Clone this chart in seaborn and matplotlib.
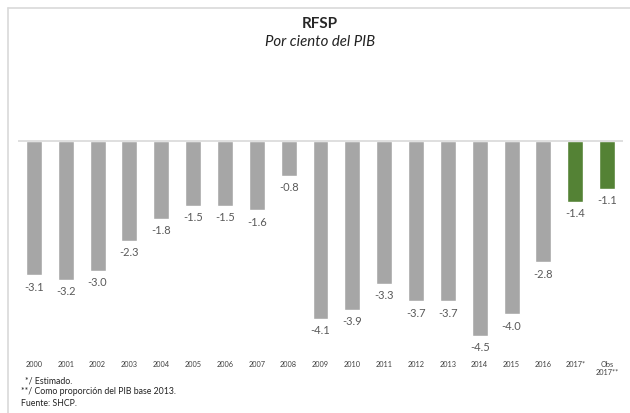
import matplotlib
matplotlib.use("Agg")
import matplotlib.pyplot as plt
import seaborn as sns
import pandas as pd
from matplotlib.lines import Line2D

# datos
years = ["2000", "2001", "2002", "2003", "2004", "2005", "2006", "2007", "2008",
         "2009", "2010", "2011", "2012", "2013", "2014", "2015", "2016",
         "2017*", "Obs\n2017**"]
rfsp = [-3.1, -3.2, -3.0, -2.3, -1.8, -1.5, -1.5, -1.6, -0.8,
        -4.1, -3.9, -3.3, -3.7, -3.7, -4.5, -4.0, -2.8, -1.4, -1.1]
kind = ["obs"] * 17 + ["est"] * 2

df = pd.DataFrame({"year": years, "rfsp": rfsp, "kind": kind})

sns.set_style("white")
plt.rcParams["font.family"] = ["Lato", "DejaVu Sans"]

fig = plt.figure(figsize=(6.3, 4.13), dpi=100)
ax = fig.add_axes([18 / 630, 1 - 355 / 413, 605 / 630, 225 / 413])

sns.barplot(data=df, x="year", y="rfsp", hue="kind", palette={"obs": "#A6A6A6", "est": "#548235"},
            width=0.5, legend=False, ax=ax, saturation=1)
ax.set_xlim(-0.5, 18.5)
ax.set_ylim(-4.94, 0.254)
ax.axhline(0, color="#D9D9D9", lw=1.2, zorder=3)

for i, v in enumerate(rfsp):
    ax.annotate(f"{v:.1f}", (i, v), xytext=(0, -4.5), textcoords="offset points",
                ha="center", va="top", fontsize=8, color="#595959")

ax.set_xlabel("")
ax.set_ylabel("")
ax.set_yticks([])
ax.tick_params(axis="x", length=0, pad=4, labelsize=5.3, labelcolor="#404040")
for t in ax.get_xticklabels():
    t.set_verticalalignment("top")
sns.despine(ax=ax, left=True, bottom=True)

# titulo
fig.text(320 / 630, 1 - 24 / 413, "RFSP", ha="center", va="center", fontsize=11, fontweight="bold")
fig.text(320 / 630, 1 - 42 / 413, "Por ciento del PIB", ha="center", va="center", fontsize=10.8,
         style="italic", color="#222222")

# notas
fig.text(25 / 630, 1 - 381 / 413, "*/ Estimado.", fontsize=6.3, va="center", color="#222222")
fig.text(21 / 630, 1 - 392 / 413, "**/ Como proporción del PIB base 2013.", fontsize=6.3, va="center", color="#222222")
fig.text(21 / 630, 1 - 403 / 413, "Fuente: SHCP.", fontsize=6.3, va="center", color="#222222")

# marco
fig.add_artist(Line2D([8 / 630, 1], [1 - 8 / 413, 1 - 8 / 413], color="#D9D9D9", lw=1.2))
fig.add_artist(Line2D([8 / 630, 8 / 630], [1 - 8 / 413, 0], color="#D9D9D9", lw=1.2))

fig.savefig("out.png", dpi=100)
